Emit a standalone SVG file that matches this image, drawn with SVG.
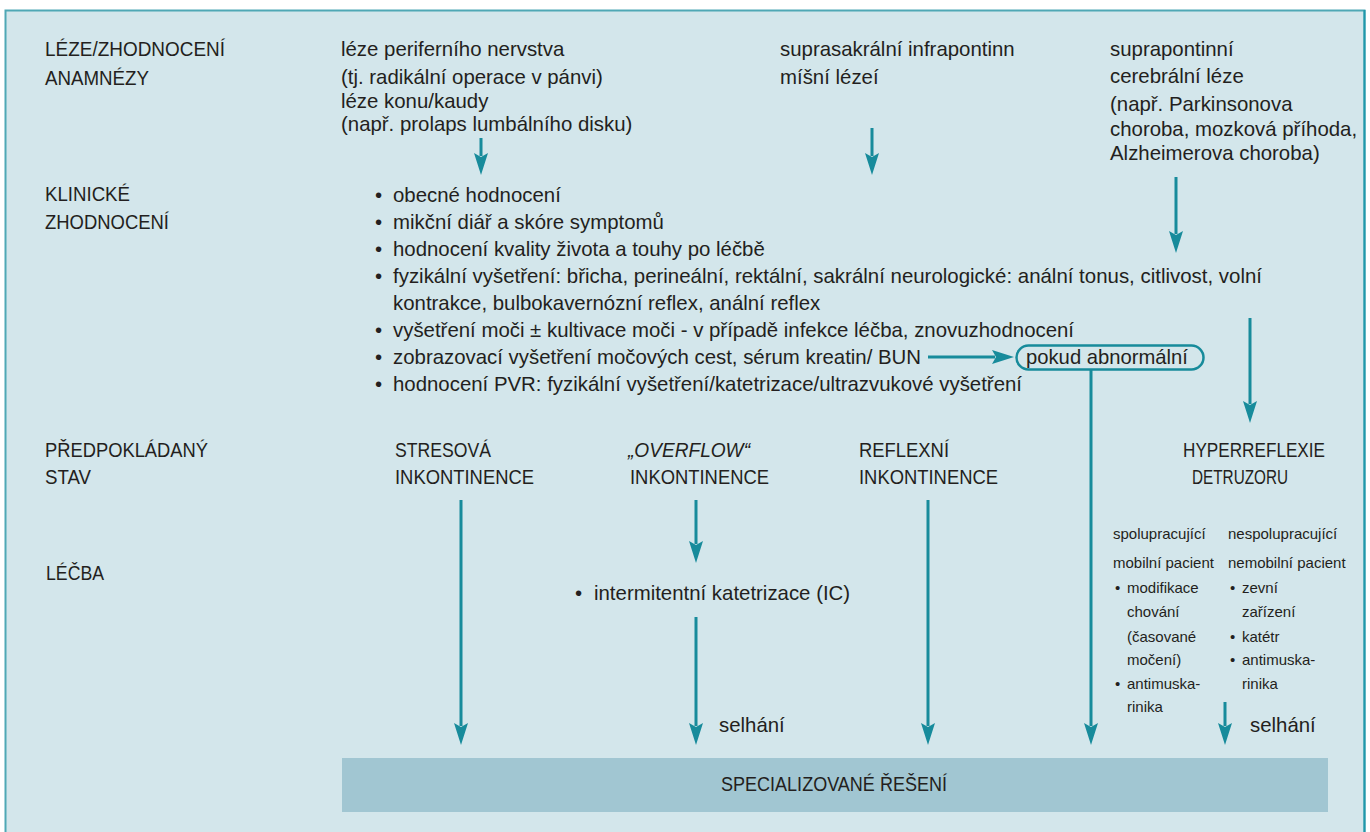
<svg xmlns="http://www.w3.org/2000/svg" width="1370" height="832" viewBox="0 0 1370 832">
<style>
text{font-family:"Liberation Sans",Arial,sans-serif;fill:#231f20;font-size:20.4px}
.sm{font-size:15px}
.it{font-style:italic}
.ln{stroke:#178b9b;stroke-width:3;fill:none}
</style>
<defs>
<marker id="ah" viewBox="0 0 22 14" markerUnits="userSpaceOnUse" markerWidth="22" markerHeight="14" refX="3" refY="7" orient="auto">
<path d="M0,0 L22,7 L0,14 L4,7 z" fill="#178b9b"/>
</marker>
</defs>
<rect x="0" y="0" width="1370" height="832" fill="#ffffff"/>
<rect x="5.5" y="10.5" width="1359" height="840" fill="#d3e6eb" stroke="#4fa8b5" stroke-width="2"/>
<line x1="1364.5" y1="10" x2="1364.5" y2="832" stroke="#1f98aa" stroke-width="2"/>

<g id="labels">
<text x="45" y="56" textLength="180" lengthAdjust="spacingAndGlyphs">LÉZE/ZHODNOCENÍ</text>
<text x="45" y="85" textLength="104" lengthAdjust="spacingAndGlyphs">ANAMNÉZY</text>
<text x="45" y="201" textLength="85" lengthAdjust="spacingAndGlyphs">KLINICKÉ</text>
<text x="45" y="229" textLength="124" lengthAdjust="spacingAndGlyphs">ZHODNOCENÍ</text>
<text x="45" y="457" textLength="163" lengthAdjust="spacingAndGlyphs">PŘEDPOKLÁDANÝ</text>
<text x="45" y="484" textLength="46" lengthAdjust="spacingAndGlyphs">STAV</text>
<text x="46" y="580" textLength="58" lengthAdjust="spacingAndGlyphs">LÉČBA</text>
</g>

<g id="lesion-peripheral">
<text x="341" y="56">léze periferního nervstva</text>
<text x="341" y="84">(tj. radikální operace v pánvi)</text>
<text x="341" y="108">léze konu/kaudy</text>
<text x="341" y="131">(např. prolaps lumbálního disku)</text>
</g>
<g id="lesion-suprasacral">
<text x="780" y="56">suprasakrální infrapontinn</text>
<text x="780" y="84">míšní lézeí</text>
</g>
<g id="lesion-suprapontine">
<text x="1110" y="56">suprapontinní</text>
<text x="1110" y="83">cerebrální léze</text>
<text x="1110" y="111">(např. Parkinsonova</text>
<text x="1110" y="136">choroba, mozková příhoda,</text>
<text x="1110" y="160">Alzheimerova choroba)</text>
</g>

<g id="clinical">
<text x="375" y="202">•</text><text x="393" y="202">obecné hodnocení</text>
<text x="375" y="229">•</text><text x="393" y="229">mikční diář a skóre symptomů</text>
<text x="375" y="256">•</text><text x="393" y="256">hodnocení kvality života a touhy po léčbě</text>
<text x="375" y="283">•</text><text x="393" y="283" textLength="869" lengthAdjust="spacingAndGlyphs">fyzikální vyšetření: břicha, perineální, rektální, sakrální neurologické: anální tonus, citlivost, volní</text>
<text x="393" y="310">kontrakce, bulbokavernózní reflex, anální reflex</text>
<text x="375" y="337">•</text><text x="393" y="337">vyšetření moči ± kultivace moči - v případě infekce léčba, znovuzhodnocení</text>
<text x="375" y="364">•</text><text x="393" y="364">zobrazovací vyšetření močových cest, sérum kreatin/ BUN</text>
<text x="375" y="391">•</text><text x="393" y="391">hodnocení PVR: fyzikální vyšetření/katetrizace/ultrazvukové vyšetření</text>
</g>

<g id="abnormal">
<rect x="1016.5" y="345.5" width="187" height="24" rx="12" ry="12" fill="none" stroke="#178b9b" stroke-width="2.5"/>
<text x="1026" y="364" textLength="162" lengthAdjust="spacingAndGlyphs">pokud abnormální</text>
</g>

<g id="state-stress">
<text x="395" y="457" textLength="96" lengthAdjust="spacingAndGlyphs">STRESOVÁ</text>
<text x="395" y="484" textLength="139" lengthAdjust="spacingAndGlyphs">INKONTINENCE</text>
</g>
<g id="state-overflow">
<text x="628" y="457" class="it" textLength="122" lengthAdjust="spacingAndGlyphs">„OVERFLOW“</text>
<text x="630" y="484" textLength="139" lengthAdjust="spacingAndGlyphs">INKONTINENCE</text>
</g>
<g id="state-reflex">
<text x="859" y="457" textLength="90" lengthAdjust="spacingAndGlyphs">REFLEXNÍ</text>
<text x="859" y="484" textLength="139" lengthAdjust="spacingAndGlyphs">INKONTINENCE</text>
</g>
<g id="state-hyper">
<text x="1183" y="457" textLength="142" lengthAdjust="spacingAndGlyphs">HYPERREFLEXIE</text>
<text x="1192" y="484" textLength="96" lengthAdjust="spacingAndGlyphs">DETRUZORU</text>
</g>

<g id="treat-ic">
<text x="575" y="600">•</text><text x="594" y="600">intermitentní katetrizace (IC)</text>
</g>

<g id="treat-coop">
<text class="sm" x="1113" y="539">spolupracující</text>
<text class="sm" x="1113" y="568">mobilní pacient</text>
<text class="sm" x="1115" y="593">•</text><text class="sm" x="1127" y="593">modifikace</text>
<text class="sm" x="1127" y="617">chování</text>
<text class="sm" x="1127" y="642">(časované</text>
<text class="sm" x="1127" y="665">močení)</text>
<text class="sm" x="1115" y="689">•</text><text class="sm" x="1127" y="689">antimuska-</text>
<text class="sm" x="1127" y="712">rinika</text>
</g>
<g id="treat-noncoop">
<text class="sm" x="1228" y="539">nespolupracující</text>
<text class="sm" x="1228" y="568">nemobilní pacient</text>
<text class="sm" x="1230" y="593">•</text><text class="sm" x="1242" y="593">zevní</text>
<text class="sm" x="1242" y="617">zařízení</text>
<text class="sm" x="1230" y="642">•</text><text class="sm" x="1242" y="642">katétr</text>
<text class="sm" x="1230" y="665">•</text><text class="sm" x="1242" y="665">antimuska-</text>
<text class="sm" x="1242" y="689">rinika</text>
</g>

<g id="fail-1"><text x="719" y="732">selhání</text></g>
<g id="fail-2"><text x="1250" y="732">selhání</text></g>

<g id="specialized">
<rect x="342" y="758" width="986" height="54" fill="#a1c6d2"/>
<text x="721" y="791" textLength="226" lengthAdjust="spacingAndGlyphs">SPECIALIZOVANÉ ŘEŠENÍ</text>
</g>

<g id="connectors">
<line class="ln" x1="481" y1="138" x2="481" y2="156" marker-end="url(#ah)"/>
<line class="ln" x1="872" y1="128" x2="872" y2="156" marker-end="url(#ah)"/>
<line class="ln" x1="1176" y1="177" x2="1176" y2="234" marker-end="url(#ah)"/>
<line class="ln" x1="928" y1="357" x2="995" y2="357" marker-end="url(#ah)"/>
<line class="ln" x1="1250" y1="318" x2="1250" y2="404" marker-end="url(#ah)"/>
<line class="ln" x1="1091" y1="370" x2="1091" y2="726" marker-end="url(#ah)"/>
<line class="ln" x1="461" y1="500" x2="461" y2="726" marker-end="url(#ah)"/>
<line class="ln" x1="696" y1="500" x2="696" y2="544" marker-end="url(#ah)"/>
<line class="ln" x1="696" y1="617" x2="696" y2="726" marker-end="url(#ah)"/>
<line class="ln" x1="928" y1="500" x2="928" y2="726" marker-end="url(#ah)"/>
<line class="ln" x1="1225" y1="702" x2="1225" y2="726" marker-end="url(#ah)"/>
</g>
</svg>
